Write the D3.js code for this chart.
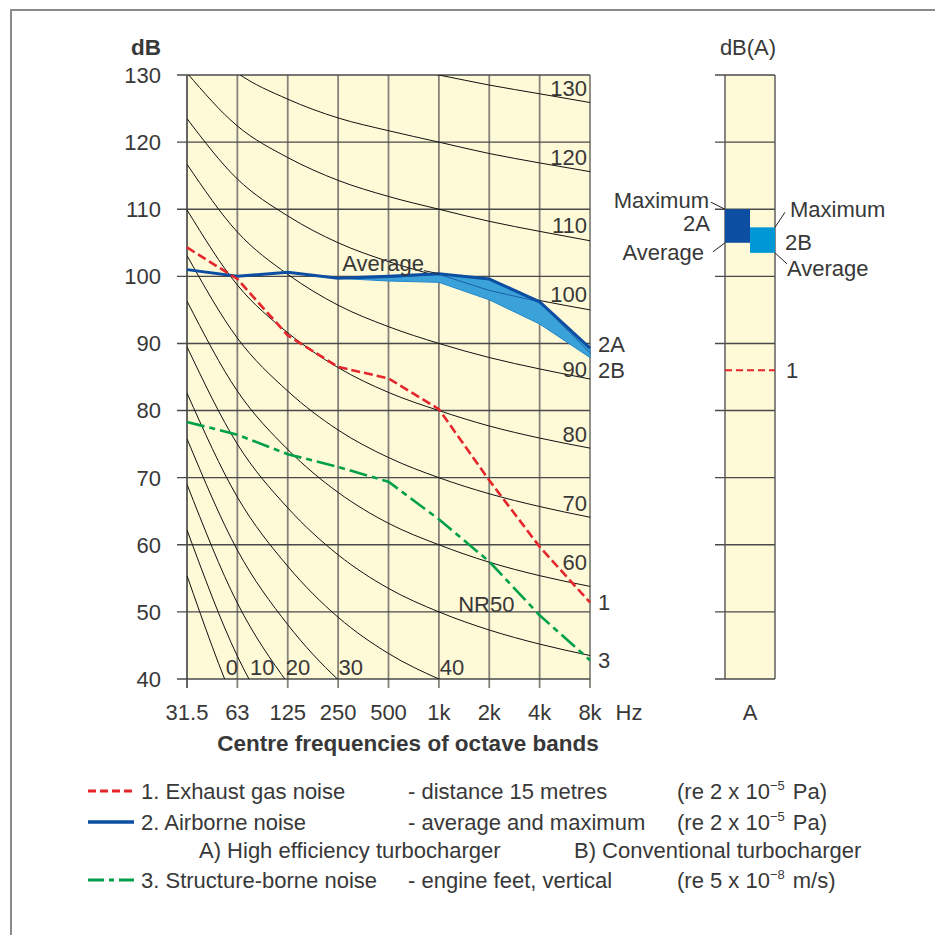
<!DOCTYPE html>
<html>
<head>
<meta charset="utf-8">
<script src="https://cdn.jsdelivr.net/npm/d3@7/dist/d3.min.js"></script>
<style>
  body { margin: 0; background: #fff; }
  svg text { font-family: "Liberation Sans", Arial, sans-serif; fill: #383838; }
</style>
</head>
<body>
<svg id="chart" width="935" height="935"></svg>
<script>
// Octave band centre frequencies and dB ticks
const freqs = ["31.5", "63", "125", "250", "500", "1k", "2k", "4k", "8k"];
const dbTicks = [40, 50, 60, 70, 80, 90, 100, 110, 120, 130];

// NR curves, level per octave band
const nrValues = [0, 10, 20, 30, 40, 50, 60, 70, 80, 90, 100, 110, 120, 130];
const nrLevels = [
    [55.4, 35.5, 22.0, 12.0, 4.8, 0, -3.5, -6.1, -8.0],
    [62.2, 43.4, 30.7, 21.3, 14.5, 10, 6.7, 4.2, 2.3],
    [69.0, 51.3, 39.4, 30.6, 24.3, 20, 16.8, 14.4, 12.6],
    [75.8, 59.2, 48.1, 39.9, 34.0, 30, 27.0, 24.7, 22.9],
    [82.6, 67.1, 56.8, 49.2, 43.8, 40, 37.1, 34.9, 33.2],
    [89.5, 75.0, 65.5, 58.5, 53.5, 50, 47.3, 45.2, 43.5],
    [96.3, 82.9, 74.2, 67.8, 63.2, 60, 57.4, 55.4, 53.8],
    [103.1, 90.8, 82.9, 77.1, 73.0, 70, 67.6, 65.7, 64.1],
    [109.9, 98.7, 91.6, 86.4, 82.7, 80, 77.7, 75.9, 74.4],
    [116.7, 106.6, 100.3, 95.7, 92.5, 90, 87.9, 86.2, 84.7],
    [123.5, 114.5, 109.0, 105.0, 102.2, 100, 98.0, 96.4, 95.0],
    [130.3, 122.4, 117.7, 114.3, 111.9, 110, 108.2, 106.7, 105.3],
    [137.1, 130.3, 126.4, 123.6, 121.7, 120, 118.3, 116.9, 115.6],
    [143.9, 138.2, 135.1, 132.9, 131.4, 130, 128.5, 127.2, 125.9]
];

// Measured spectra
const exhaust = [104.3, 99.6, 91.2, 86.5, 84.8, 80.2, 69.6, 59.7, 51.4];
const airborneTop = [101.0, 100.0, 100.6, 99.7, 100.0, 100.4, 99.6, 96.2, 89.3];
const airborneMid = [101.0, 100.0, 100.6, 99.7, 99.8, 100.3, 97.9, 96.2, 88.6];
const airborneBottom = [101.0, 100.0, 100.6, 99.7, 99.3, 99.1, 96.5, 92.9, 87.9];
const structure = [78.3, 76.4, 73.5, 71.6, 69.4, 63.8, 57.5, 49.5, 42.8];

// dB(A) totals
const dbaKeys = ["2A", "2B"];
const dbaAverage = [105.0, 103.5];
const dbaMaximum = [110.0, 107.3];
const dbaExhaust = 86.0;

const colors = {
    exhaust: "#e4252b",
    airborne: "#0b4ea2",
    band: "#3aa2d9",
    structure: "#00a04b",
    bar2A: "#0b4ea2",
    bar2B: "#0097d7",
    paper: "#fef9d7"
};

const svg = d3.select("#chart");

// frame
svg.append("path")
    .attr("d", "M11,935V10H935")
    .attr("fill", "none")
    .attr("stroke", "#8a8a8a")
    .attr("stroke-width", 2);

const x = d3.scalePoint().domain(freqs).range([187, 590]);
const y = d3.scaleLinear().domain([40, 130]).range([679, 75]);
const xi = i => x(freqs[i]);

// plot background
svg.append("rect")
    .attr("x", x.range()[0]).attr("y", y(130))
    .attr("width", x.range()[1] - x.range()[0])
    .attr("height", y(40) - y(130))
    .attr("fill", colors.paper);

svg.append("clipPath").attr("id", "plotClip")
    .append("rect")
    .attr("x", x.range()[0]).attr("y", y(130))
    .attr("width", x.range()[1] - x.range()[0])
    .attr("height", y(40) - y(130));

// grid
svg.append("g")
    .selectAll("line")
    .data(freqs)
    .join("line")
    .attr("x1", d => x(d)).attr("x2", d => x(d))
    .attr("y1", y(130)).attr("y2", y(40) + 9)
    .attr("stroke", (d, i) => i === 0 ? "#333" : "#85827a")
    .attr("stroke-width", (d, i) => i === 0 ? 1.5 : 1.8);

svg.append("g")
    .selectAll("line")
    .data(dbTicks)
    .join("line")
    .attr("x1", x.range()[0] - 10).attr("x2", x.range()[1])
    .attr("y1", d => y(d)).attr("y2", d => y(d))
    .attr("stroke", "#4a4a4a")
    .attr("stroke-width", 1.4);

// NR curves
const nrLine = d3.line()
    .x((d, i) => xi(i))
    .y(d => y(d))
    .curve(d3.curveMonotoneX);

const nrPaths = svg.append("g")
    .attr("clip-path", "url(#plotClip)")
    .selectAll("path")
    .data(nrLevels)
    .join("path")
    .attr("d", nrLine)
    .attr("fill", "none")
    .attr("stroke", "#111")
    .attr("stroke-width", 1);

// NR labels at the bottom (0..40): just right of where the curve meets 40 dB
nrPaths.each(function(d, i) {
    const nr = nrValues[i];
    if (nr > 40) return;
    const len = this.getTotalLength();
    let lo = 0, hi = len;
    for (let k = 0; k < 40; k++) {
        const mid = (lo + hi) / 2;
        if (this.getPointAtLength(mid).y < y(40)) lo = mid; else hi = mid;
    }
    const p = this.getPointAtLength(lo);
    svg.append("text")
        .attr("x", p.x + 1)
        .attr("y", y(40) - 4)
        .attr("font-size", 22)
        .text(nr);
});

// NR labels on the right side (60..130)
const nrLift = { 60: 24, 90: 10, 100: 16, 110: 16, 120: 15 };
nrValues.forEach((nr, i) => {
    if (nr < 60) return;
    svg.append("text")
        .attr("x", x.range()[1] - 3)
        .attr("y", y(nrLevels[i][8]) - (nrLift[nr] || 14))
        .attr("dy", "0.36em")
        .attr("text-anchor", "end")
        .attr("font-size", 22)
        .text(nr);
});

svg.append("text")
    .attr("x", x("2k") - 3)
    .attr("y", y(nrLevels[5][6]) - 26)
    .attr("dy", "0.36em")
    .attr("text-anchor", "middle")
    .attr("font-size", 22)
    .text("NR50");

// airborne noise band
const bandArea = d3.area()
    .x((d, i) => xi(i))
    .y0((d, i) => y(airborneBottom[i]))
    .y1(d => y(d));

svg.append("path")
    .datum(airborneTop)
    .attr("d", bandArea)
    .attr("fill", colors.band)
    .attr("stroke", "#1f86c9")
    .attr("stroke-width", 1);

const seriesLine = d3.line().x((d, i) => xi(i)).y(d => y(d));

svg.append("path")
    .datum(airborneMid)
    .attr("d", seriesLine)
    .attr("fill", "none")
    .attr("stroke", "#1b5fa8")
    .attr("stroke-width", 1);

svg.append("path")
    .datum(airborneTop)
    .attr("d", seriesLine)
    .attr("fill", "none")
    .attr("stroke", colors.airborne)
    .attr("stroke-width", 3);

// exhaust gas noise
svg.append("path")
    .datum(exhaust)
    .attr("d", seriesLine)
    .attr("fill", "none")
    .attr("stroke", colors.exhaust)
    .attr("stroke-width", 2.6)
    .attr("stroke-dasharray", "9,4");

// structure-borne noise
svg.append("path")
    .datum(structure)
    .attr("d", seriesLine)
    .attr("fill", "none")
    .attr("stroke", colors.structure)
    .attr("stroke-width", 2.6)
    .attr("stroke-dasharray", "18,5,6,5");

// "Average" label with leader
svg.append("text")
    .attr("x", x("1k") - 15)
    .attr("y", y(airborneTop[5]) - 11)
    .attr("dy", "0.36em")
    .attr("text-anchor", "end")
    .attr("font-size", 22)
    .text("Average");
svg.append("line")
    .attr("x1", x("1k") - 15).attr("y1", y(airborneTop[5]) - 3)
    .attr("x2", x("1k")).attr("y2", y(airborneTop[5]))
    .attr("stroke", "#222").attr("stroke-width", 1);

// end-of-series labels
const endLabels = [
    { text: "2A", v: airborneTop[8], dy: -4 },
    { text: "2B", v: airborneBottom[8], dy: 13 },
    { text: "1", v: exhaust[8], dy: 0 },
    { text: "3", v: structure[8], dy: 0 }
];
svg.append("g")
    .selectAll("text")
    .data(endLabels)
    .join("text")
    .attr("x", x.range()[1] + 8)
    .attr("y", d => y(d.v) + d.dy)
    .attr("dy", "0.36em")
    .attr("font-size", 22)
    .text(d => d.text);

// axes labels
svg.append("g")
    .selectAll("text")
    .data(dbTicks)
    .join("text")
    .attr("x", 161)
    .attr("y", d => y(d))
    .attr("dy", "0.36em")
    .attr("text-anchor", "end")
    .attr("font-size", 22)
    .text(d => d);

svg.append("g")
    .selectAll("text")
    .data(freqs)
    .join("text")
    .attr("x", d => x(d))
    .attr("y", 712)
    .attr("dy", "0.36em")
    .attr("text-anchor", "middle")
    .attr("font-size", 22)
    .text(d => d);

svg.append("text")
    .attr("x", 629).attr("y", 712).attr("dy", "0.36em")
    .attr("text-anchor", "middle").attr("font-size", 22)
    .text("Hz");

svg.append("text")
    .attr("x", 146).attr("y", 47).attr("dy", "0.36em")
    .attr("text-anchor", "middle").attr("font-size", 22.5)
    .attr("font-weight", "bold")
    .text("dB");

svg.append("text")
    .attr("x", 408).attr("y", 743).attr("dy", "0.36em")
    .attr("text-anchor", "middle").attr("font-size", 22.5)
    .attr("font-weight", "bold")
    .text("Centre frequencies of octave bands");

// dB(A) column
const xb = d3.scaleBand().domain(dbaKeys).range([725, 775]);

svg.append("rect")
    .attr("x", 725).attr("y", y(130))
    .attr("width", 50).attr("height", y(40) - y(130))
    .attr("fill", colors.paper);

svg.append("g")
    .selectAll("line")
    .data(dbTicks)
    .join("line")
    .attr("x1", 715).attr("x2", 775)
    .attr("y1", d => y(d)).attr("y2", d => y(d))
    .attr("stroke", "#4a4a4a")
    .attr("stroke-width", 1.4);

svg.append("g")
    .selectAll("line")
    .data([725, 775])
    .join("line")
    .attr("x1", d => d).attr("x2", d => d)
    .attr("y1", y(130)).attr("y2", y(40))
    .attr("stroke", "#555")
    .attr("stroke-width", 1.4);

svg.append("g")
    .selectAll("rect")
    .data(dbaKeys)
    .join("rect")
    .attr("x", d => xb(d))
    .attr("y", (d, i) => y(dbaMaximum[i]))
    .attr("width", xb.bandwidth())
    .attr("height", (d, i) => y(dbaAverage[i]) - y(dbaMaximum[i]))
    .attr("fill", (d, i) => i === 0 ? colors.bar2A : colors.bar2B);

svg.append("line")
    .attr("x1", 725).attr("x2", 775)
    .attr("y1", y(dbaExhaust)).attr("y2", y(dbaExhaust))
    .attr("stroke", colors.exhaust)
    .attr("stroke-width", 2)
    .attr("stroke-dasharray", "7,4");

svg.append("text")
    .attr("x", 748).attr("y", 47).attr("dy", "0.36em")
    .attr("text-anchor", "middle").attr("font-size", 22)
    .text("dB(A)");

svg.append("text")
    .attr("x", 750).attr("y", 712).attr("dy", "0.36em")
    .attr("text-anchor", "middle").attr("font-size", 22)
    .text("A");

svg.append("text")
    .attr("x", 786).attr("y", y(dbaExhaust)).attr("dy", "0.36em")
    .attr("font-size", 22)
    .text("1");

// dB(A) bar annotations
const topA = y(dbaMaximum[0]), botA = y(dbaAverage[0]);
const topB = y(dbaMaximum[1]), botB = y(dbaAverage[1]);
const notes = [
    { t: "Maximum", x: 709, y: topA - 9, anchor: "end" },
    { t: "2A", x: 710, y: (topA + botA) / 2 - 3, anchor: "end" },
    { t: "Average", x: 704, y: botA + 9, anchor: "end" },
    { t: "Maximum", x: 790, y: topB - 18, anchor: "start" },
    { t: "2B", x: 785, y: (topB + botB) / 2 + 2, anchor: "start" },
    { t: "Average", x: 787, y: botB + 15, anchor: "start" }
];
svg.append("g")
    .selectAll("text")
    .data(notes)
    .join("text")
    .attr("x", d => d.x).attr("y", d => d.y)
    .attr("dy", "0.36em")
    .attr("text-anchor", d => d.anchor)
    .attr("font-size", 22)
    .text(d => d.t);

const leaders = [
    [711, topA - 7, 725, topA],
    [713, botA + 9, 725, botA],
    [775, topB, 785, topB - 15],
    [775, botB, 787, botB + 11]
];
svg.append("g")
    .selectAll("line")
    .data(leaders)
    .join("line")
    .attr("x1", d => d[0]).attr("y1", d => d[1])
    .attr("x2", d => d[2]).attr("y2", d => d[3])
    .attr("stroke", "#222").attr("stroke-width", 1);

// legend
const legendNames = ["1. Exhaust gas noise", "2. Airborne noise", "3. Structure-borne noise"];
const legendDetails = ["- distance 15 metres", "- average and maximum", "- engine feet, vertical"];
const legendRefs = [["2", "−5", "Pa)"], ["2", "−5", "Pa)"], ["5", "−8", "m/s)"]];
const legendRowY = [791, 822, 880];
const legendStyles = [
    { stroke: colors.exhaust, dash: "8,4", w: 3 },
    { stroke: colors.airborne, dash: null, w: 3.5 },
    { stroke: colors.structure, dash: "16,5,5,5", w: 3 }
];

const legend = svg.append("g")
    .attr("font-size", 22)
    .selectAll("g")
    .data(legendNames)
    .join("g")
    .attr("transform", (d, i) => `translate(0,${legendRowY[i]})`);

legend.append("line")
    .attr("x1", 88).attr("x2", 134)
    .attr("stroke", (d, i) => legendStyles[i].stroke)
    .attr("stroke-width", (d, i) => legendStyles[i].w)
    .attr("stroke-dasharray", (d, i) => legendStyles[i].dash);

legend.append("text")
    .attr("x", 141).attr("dy", "0.36em")
    .text(d => d);

legend.append("text")
    .attr("x", 408).attr("dy", "0.36em")
    .text((d, i) => legendDetails[i]);

const refText = legend.append("text")
    .attr("x", 677).attr("dy", "0.36em");
refText.append("tspan").text((d, i) => `(re ${legendRefs[i][0]} x 10`);
refText.append("tspan")
    .attr("dy", -9).attr("font-size", 13)
    .text((d, i) => legendRefs[i][1]);
refText.append("tspan")
    .attr("dy", 9).attr("dx", 8)
    .text((d, i) => legendRefs[i][2]);

svg.append("text")
    .attr("x", 199).attr("y", 850).attr("dy", "0.36em")
    .attr("font-size", 22)
    .text("A) High efficiency turbocharger");
svg.append("text")
    .attr("x", 574).attr("y", 850).attr("dy", "0.36em")
    .attr("font-size", 22)
    .text("B) Conventional turbocharger");
</script>
</body>
</html>
